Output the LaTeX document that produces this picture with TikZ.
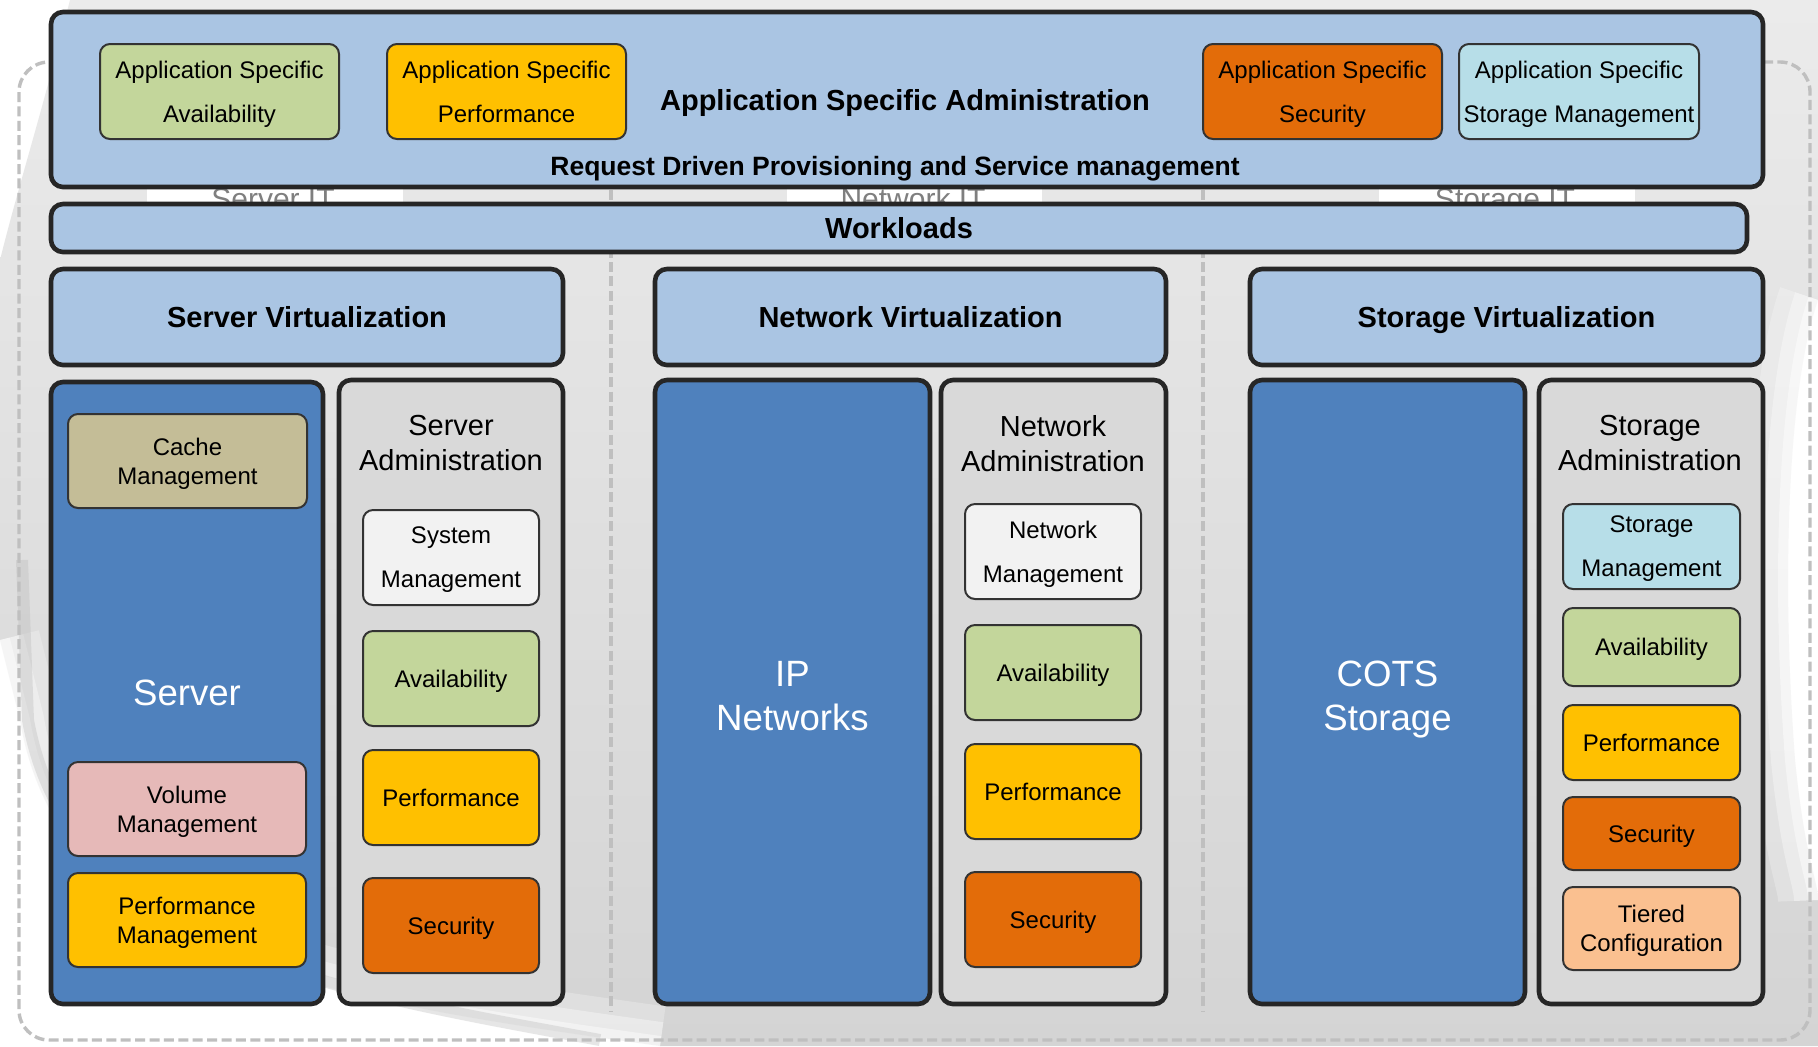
\documentclass[tikz,border=0pt]{standalone}
\usepackage{fontspec}
\setmainfont{Liberation Sans}

\definecolor{paleblue}{HTML}{AAC5E3}
\definecolor{deepblue}{HTML}{4F81BD}
\definecolor{admingray}{HTML}{D9D9D9}
\definecolor{availgreen}{HTML}{C3D69B}
\definecolor{perfyellow}{HTML}{FFC000}
\definecolor{secorange}{HTML}{E36C09}
\definecolor{storcyan}{HTML}{B7DEE8}
\definecolor{cachetan}{HTML}{C4BD97}
\definecolor{volpink}{HTML}{E6B9B8}
\definecolor{tierpeach}{HTML}{FAC090}
\definecolor{sysgray}{HTML}{F2F2F2}
\definecolor{edgeink}{HTML}{262626}
\definecolor{chipink}{HTML}{333333}
\definecolor{dashgray}{HTML}{BFBFBF}
\definecolor{bgtop}{HTML}{EBEBEB}
\definecolor{bgbottom}{HTML}{D4D4D4}
\definecolor{ghosttext}{HTML}{7F7F7F}

% box from corner (x1,y1) to (x2,y2), in pixel units
\newcommand\blk[7]{\node[#1, minimum width={(#5-#3)*0.5pt}, minimum height={(#6-#4)*0.5pt}] (#2) at ({(#3+#5)/2},{(#4+#6)/2}) {#7};}
% extra head room for the first line of the large two-line labels
\newcommand\headroom{\rule{0pt}{16.6pt}}

\tikzset{
  panel/.style={draw=edgeink, line width=2.3pt, rounded corners=6pt, inner sep=0pt, align=center, text depth=0pt},
  chip/.style={draw=chipink, line width=1pt, rounded corners=5pt, inner sep=0pt, align=center, text depth=0pt,
               font=\fontsize{12}{22}\selectfont},
  chiptight/.style={chip, font=\fontsize{12}{14.5}\selectfont},
  headtxt/.style={text depth=0pt, font=\bfseries\fontsize{14.5}{17}\selectfont},
  admtxt/.style={align=center, text depth=0pt, font=\fontsize{14.5}{17.5}\selectfont},
  bigtxt/.style={text=white, text depth=0pt, font=\fontsize{18.3}{22}\selectfont},
  ghost/.style={text=ghosttext, font=\fontsize{15}{18}\selectfont, anchor=base},
  sepline/.style={dashgray, line width=1.7pt, dash pattern=on 5pt off 2.2pt},
}

\begin{document}
\begin{tikzpicture}[x=0.5pt,y=-0.5pt]
\useasboundingbox (0,0) rectangle (1818,1046);

% ---- backdrop: soft gray card with a curled lower-left corner
\fill[white] (0,0) rectangle (1818,1046);
\path[top color=bgtop, bottom color=bgbottom]
  (70,0) -- (1818,0) -- (1818,300) .. controls (1790,380) and (1780,560) .. (1795,760)
  .. controls (1805,860) and (1818,880) .. (1818,900) -- (1818,1046) -- (660,1046)
  .. controls (330,1000) and (60,960) .. (20,720) -- (0,640) -- (0,260) .. controls (20,180) and (40,120) .. (70,0) -- cycle;
\foreach \w/\o in {40/0.25, 24/0.35, 10/0.45}
  \draw[white, line width=\w pt, opacity=\o]
  (1818,300) .. controls (1790,380) and (1780,560) .. (1795,760)
  .. controls (1805,860) and (1818,880) .. (1818,900)
  (660,1046) .. controls (330,1000) and (60,960) .. (20,720) -- (0,640);
\draw[gray!55, line width=6pt, opacity=0.35]
  (600,1040) .. controls (330,990) and (70,950) .. (28,720) -- (22,560);

% ---- dashed card outline and column separators
\draw[sepline, rounded corners=15pt] (19,62) rectangle (1810,1040);
\coordinate (sepAtop) at (611,190);
\coordinate (sepAbot) at (611,1012);
\coordinate (sepBtop) at (1203,190);
\coordinate (sepBbot) at (1203,1012);
\draw[sepline] (sepAtop) -- (sepAbot);
\draw[sepline] (sepBtop) -- (sepBbot);

% ---- tab labels tucked behind the upper bars
\fill[white] (147,150) rectangle (403,240);
\fill[white] (787,150) rectangle (1042,240);
\fill[white] (1379,150) rectangle (1635,240);
\node[ghost] (serverit) at (273,209) {Server IT};
\node[ghost] (networkit) at (913,209) {Network IT};
\node[ghost] (storageit) at (1505,209) {Storage IT};

% ---- application specific administration bar
\blk{panel, fill=paleblue}{admin}{51}{12}{1763}{187}{}
\blk{chip, fill=availgreen}{appavail}{100}{44}{339}{139}{Application Specific\\Availability}
\blk{chip, fill=perfyellow}{appperf}{387}{44}{626}{139}{Application Specific\\Performance}
\blk{chip, fill=secorange}{appsec}{1203}{44}{1442}{139}{Application Specific\\Security}
\blk{chip, fill=storcyan}{appstor}{1459}{44}{1699}{139}{Application Specific\\Storage Management}
\node[headtxt] (adminttl) at (905,100) {Application Specific Administration};
\node[text depth=0pt, font=\bfseries\fontsize{13.25}{15}\selectfont] (reqline) at (895,166) {Request Driven Provisioning and Service management};

% ---- workloads bar
\blk{panel, fill=paleblue, headtxt}{work}{51}{204}{1747}{252}{Workloads}

% ---- virtualization headers
\blk{panel, fill=paleblue, headtxt}{srvvirt}{51}{269}{563}{365}{Server Virtualization}
\blk{panel, fill=paleblue, headtxt}{netvirt}{655}{269}{1166}{365}{Network Virtualization}
\blk{panel, fill=paleblue, headtxt}{storvirt}{1250}{269}{1763}{365}{Storage Virtualization}

% ---- server column
\blk{panel, fill=deepblue, bigtxt}{server}{51}{382}{323}{1004}{Server}
\blk{chiptight, fill=cachetan}{cache}{68}{414}{307}{508}{Cache\\Management}
\blk{chiptight, fill=volpink}{volume}{68}{762}{306}{856}{Volume\\Management}
\blk{chiptight, fill=perfyellow}{perfmgmt}{68}{873}{306}{967}{Performance\\Management}

\blk{panel, fill=admingray}{srvadm}{339}{380}{563}{1004}{}
\node[admtxt] (srvadmttl) at (451,443) {Server\\Administration};
\blk{chip, fill=sysgray}{sysmgmt}{363}{510}{539}{605}{System\\Management}
\blk{chip, fill=availgreen}{srvavail}{363}{631}{539}{726}{Availability}
\blk{chip, fill=perfyellow}{srvperf}{363}{750}{539}{845}{Performance}
\blk{chip, fill=secorange}{srvsec}{363}{878}{539}{973}{Security}

% ---- network column
\blk{panel, fill=deepblue, bigtxt}{ipnet}{655}{380}{930}{1004}{\headroom IP\\Networks}

\blk{panel, fill=admingray}{netadm}{941}{380}{1166}{1004}{}
\node[admtxt] (netadmttl) at (1053,443) {Network\\Administration};
\blk{chip, fill=sysgray}{netmgmt}{965}{504}{1141}{599}{Network\\Management}
\blk{chip, fill=availgreen}{netavail}{965}{625}{1141}{720}{Availability}
\blk{chip, fill=perfyellow}{netperf}{965}{744}{1141}{839}{Performance}
\blk{chip, fill=secorange}{netsec}{965}{872}{1141}{967}{Security}

% ---- storage column
\blk{panel, fill=deepblue, bigtxt}{cots}{1250}{380}{1525}{1004}{\headroom COTS\\Storage}

\blk{panel, fill=admingray}{storadm}{1539}{380}{1763}{1004}{}
\node[admtxt] (storadmttl) at (1650,443) {Storage\\Administration};
\blk{chip, fill=storcyan}{stormgmt}{1563}{504}{1740}{589}{Storage\\Management}
\blk{chip, fill=availgreen}{storavail}{1563}{608}{1740}{686}{Availability}
\blk{chip, fill=perfyellow}{storperf}{1563}{705}{1740}{780}{Performance}
\blk{chip, fill=secorange}{storsec}{1563}{797}{1740}{870}{Security}
\blk{chiptight, fill=tierpeach}{tiered}{1563}{887}{1740}{970}{Tiered\\Configuration}
\end{tikzpicture}
\end{document}
